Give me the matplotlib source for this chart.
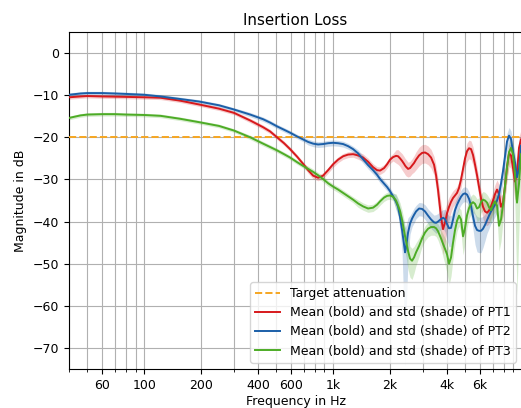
import numpy as np
import matplotlib
matplotlib.use("Agg")
import matplotlib.pyplot as plt
from matplotlib.ticker import FixedLocator, FixedFormatter, NullFormatter

# ---------------- data ----------------
freq = [40, 46, 50, 60, 70, 80, 100, 122, 155, 195, 249, 299, 364, 426, 464, 505, 550, 592, 645, 694,
        738, 784, 833, 885, 941, 1000, 1063, 1130, 1201, 1276, 1356, 1441, 1532, 1628, 1709, 1773, 1862, 1931, 2003, 2077,
        2154, 2208, 2262, 2318, 2375, 2404, 2433, 2494, 2555, 2618, 2683, 2749, 2852, 2958, 3068, 3182, 3300, 3423, 3508, 3594,
        3728, 3820, 3914, 4011, 4110, 4211, 4315, 4421, 4530, 4642, 4756, 4874, 4994, 5117, 5243, 5373, 5505, 5641, 5780, 5923,
        6069, 6218, 6372, 6529, 6690, 6855, 7024, 7197, 7375, 7557, 7743, 7934, 8130, 8330, 8536, 8747, 8963, 9184, 9410, 9642,
        9879]

mean_pt1 = [-10.5, -10.3, -10.2, -10.3, -10.35, -10.4, -10.5, -10.6, -11.3, -12.2, -13.2, -14.2, -16.0, -17.6, -18.6, -20.0, -21.4, -22.8, -24.6, -26.3,
            -27.8, -29.1, -29.6, -29.1, -27.8, -26.4, -25.3, -24.5, -24.1, -24.0, -24.3, -24.8, -25.8, -27.1, -27.8, -27.9, -27.3, -26.4, -25.3, -24.7,
            -24.4, -24.5, -25.0, -25.6, -26.3, -26.7, -27.0, -27.5, -27.3, -26.7, -26.1, -25.3, -24.3, -23.7, -23.6, -24.0, -24.8, -26.5, -29.0, -32.5,
            -39.0, -41.8, -40.2, -38.0, -36.5, -35.3, -34.4, -33.8, -33.2, -32.0, -30.0, -27.5, -25.0, -23.3, -22.6, -22.8, -24.2, -26.5, -29.0, -31.8,
            -34.5, -36.5, -37.6, -37.9, -37.4, -36.4, -35.0, -33.5, -32.4, -33.5, -36.5, -35.5, -31.5, -27.0, -23.8, -24.3, -27.3, -30.5, -28.5, -22.5,
            -20.5]

mean_pt2 = [-9.9, -9.6, -9.5, -9.5, -9.6, -9.7, -9.9, -10.3, -10.9, -11.5, -12.4, -13.4, -14.6, -15.7, -16.5, -17.4, -18.2, -18.9, -19.8, -20.5,
            -21.1, -21.5, -21.7, -21.6, -21.4, -21.3, -21.4, -21.6, -22.1, -22.8, -23.8, -25.2, -26.6, -27.8, -28.9, -29.9, -31.0, -31.8, -32.8, -34.0,
            -35.3, -36.5, -39.0, -42.0, -45.5, -47.3, -46.2, -42.6, -40.5, -39.3, -38.4, -37.6, -36.9, -37.0, -37.6, -38.6, -39.5, -40.2, -40.3, -40.0,
            -39.4, -39.1, -39.4, -40.6, -41.6, -41.5, -39.5, -37.3, -36.0, -35.0, -34.1, -33.5, -33.3, -33.6, -34.6, -36.3, -38.8, -41.0, -42.0, -42.2,
            -42.2, -41.7, -40.8, -39.7, -38.6, -37.6, -36.8, -36.0, -35.0, -33.5, -31.0, -28.0, -24.5, -21.0, -19.6, -20.4, -23.5, -26.0, -29.5, -27.5,
            -22.0]

mean_pt3 = [-15.4, -14.8, -14.6, -14.5, -14.5, -14.6, -14.7, -14.9, -15.6, -16.4, -17.3, -18.4, -20.0, -21.5, -22.3, -23.1, -24.0, -24.8, -25.9, -26.8,
            -27.5, -28.2, -29.0, -29.9, -30.9, -31.7, -32.4, -33.2, -34.0, -34.8, -35.7, -36.4, -36.9, -36.7, -36.0, -35.2, -34.3, -33.9, -33.8, -34.1,
            -35.0, -36.2, -37.5, -39.6, -42.2, -43.5, -44.6, -47.0, -48.8, -49.3, -48.5, -47.3, -45.8, -44.0, -42.6, -41.7, -41.3, -41.3, -41.6, -42.3,
            -44.0, -45.3, -46.5, -47.8, -50.0, -48.5, -45.0, -42.0, -39.8, -38.6, -39.5, -43.5, -41.5, -38.5, -36.8, -35.8, -35.4, -35.8, -36.9, -36.6,
            -35.4, -34.8, -35.0, -35.5, -36.6, -37.3, -36.0, -35.2, -36.2, -41.0, -39.5, -36.0, -31.5, -27.0, -23.5, -22.5, -24.0, -29.0, -35.5, -31.0,
            -24.0]

# relative standard deviation of the linear magnitude
std_pt1 = [0.05] * 12 + [0.06] * 8 + [0.08] * 10 + [0.10] * 10 + \
          [0.18, 0.2, 0.2, 0.22, 0.22, 0.22, 0.22, 0.2, 0.2, 0.2, 0.22, 0.24, 0.25, 0.25, 0.25, 0.25, 0.25, 0.25, 0.3, 0.35,
           0.45, 0.5, 0.45, 0.35, 0.3, 0.25, 0.22, 0.2, 0.2, 0.2, 0.2, 0.2, 0.22, 0.25, 0.25, 0.25, 0.25, 0.25, 0.25, 0.25,
           0.25, 0.28, 0.3, 0.3, 0.3, 0.28, 0.28, 0.3, 0.3, 0.3, 0.35, 0.3, 0.3, 0.3, 0.3, 0.3, 0.35, 0.4, 0.4, 0.35,
           0.3]
std_pt2 = [0.05] * 12 + [0.06] * 8 + [0.08] * 10 + [0.10] * 10 + \
          [0.2, 0.22, 0.3, 0.45, 0.85, 0.955, 0.85, 0.5, 0.25, 0.2, 0.2, 0.18, 0.18, 0.18, 0.2, 0.2, 0.22, 0.22, 0.25, 0.25,
           0.25, 0.25, 0.3, 0.35, 0.4, 0.4, 0.3, 0.25, 0.22, 0.2, 0.2, 0.2, 0.2, 0.2, 0.22, 0.25, 0.3, 0.4, 0.45, 0.45,
           0.45, 0.4, 0.35, 0.3, 0.3, 0.28, 0.28, 0.28, 0.28, 0.28, 0.28, 0.25, 0.25, 0.25, 0.25, 0.25, 0.3, 0.3, 0.35, 0.3,
           0.3]
std_pt3 = [0.05] * 12 + [0.06] * 8 + [0.08] * 10 + [0.10] * 10 + \
          [0.2, 0.22, 0.25, 0.3, 0.35, 0.35, 0.35, 0.4, 0.4, 0.4, 0.35, 0.3, 0.25, 0.2, 0.2, 0.2, 0.2, 0.2, 0.2, 0.22,
           0.25, 0.3, 0.35, 0.4, 0.45, 0.4, 0.35, 0.3, 0.25, 0.25, 0.3, 0.4, 0.35, 0.3, 0.25, 0.25, 0.25, 0.25, 0.3, 0.3,
           0.25, 0.25, 0.25, 0.25, 0.3, 0.3, 0.25, 0.25, 0.3, 0.5, 0.45, 0.35, 0.3, 0.3, 0.3, 0.3, 0.35, 0.6, 0.92, 0.7,
           0.4]

target_db = -20
xtick_vals = [60, 100, 200, 400, 600, 1000, 2000, 4000, 6000]
xtick_labels = ["60", "100", "200", "400", "600", "1k", "2k", "4k", "6k"]

series = [
    ("Mean (bold) and std (shade) of PT1", mean_pt1, std_pt1, "#d7191c"),
    ("Mean (bold) and std (shade) of PT2", mean_pt2, std_pt2, "#1b5fa8"),
    ("Mean (bold) and std (shade) of PT3", mean_pt3, std_pt3, "#4dac26"),
]

# ---------------- plot ----------------
fig = plt.figure(figsize=(5.21, 4.08), dpi=100)
ax = fig.add_axes([69 / 521, 39 / 408, 453 / 521, 337 / 408])

f = np.array(freq, dtype=float)
ax.axhline(target_db, color="#f5a623", linestyle="--", linewidth=1.4, label="Target attenuation", zorder=3)
for label, m, s, c in series:
    m = np.array(m)
    s = np.array(s)
    lo = m + 20 * np.log10(1 - s)
    hi = m + 20 * np.log10(1 + s)
    ax.fill_between(f, lo, hi, color=c, alpha=0.22, linewidth=0, zorder=2)
    ax.plot(f, m, color=c, linewidth=1.4, label=label, zorder=4)

ax.set_xscale("log")
ax.set_xlim(40, 10000)
ax.set_ylim(-75, 5)
ax.set_yticks([0, -10, -20, -30, -40, -50, -60, -70])
ax.xaxis.set_major_locator(FixedLocator(xtick_vals))
ax.xaxis.set_major_formatter(FixedFormatter(xtick_labels))
ax.xaxis.set_minor_formatter(NullFormatter())
ax.grid(True, which="both", color="#b0b0b0", linewidth=0.8)
ax.set_axisbelow(True)
ax.tick_params(labelsize=9)

ax.set_title("Insertion Loss", fontsize=10.8, pad=5)
ax.set_xlabel("Frequency in Hz", fontsize=9, labelpad=2)
ax.set_ylabel("Magnitude in dB", fontsize=9)
ax.legend(loc="lower right", fontsize=9, borderaxespad=0.5)

fig.savefig("out.png", dpi=100)
